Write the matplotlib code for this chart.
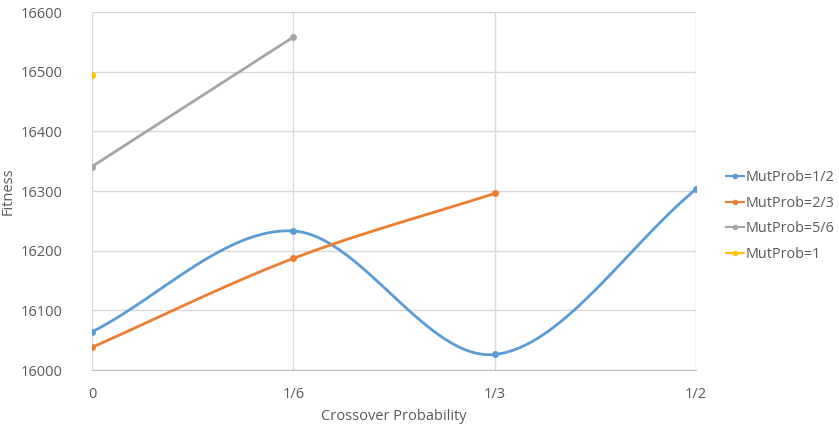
import matplotlib.pyplot as plt
import numpy as np

# crossover probability categories and fitness per mutation probability
categories = ['0', '1/6', '1/3', '1/2']
series_names = ['MutProb=1/2', 'MutProb=2/3', 'MutProb=5/6', 'MutProb=1']
fit_half = [16064, 16233, 16026, 16303]
fit_two_thirds = [16038, 16187, 16296]
fit_five_sixths = [16341, 16558]
fit_one = [16495]
colors = ['#5B9BD5', '#ED7D31', '#A5A5A5', '#FFC000']

text_color = '#595959'
plt.rcParams['font.family'] = ['Open Sans', 'DejaVu Sans']


def smooth(xs, ys, n=40):
    # catmull-rom style curve through the points, like a spreadsheet "smoothed line"
    xs = np.asarray(xs, float)
    ys = np.asarray(ys, float)
    if len(xs) < 3:
        return xs, ys
    px = np.concatenate([[2 * xs[0] - xs[1]], xs, [2 * xs[-1] - xs[-2]]])
    py = np.concatenate([[2 * ys[0] - ys[1]], ys, [2 * ys[-1] - ys[-2]]])
    ox, oy = [], []
    for i in range(1, len(px) - 2):
        p0, p1, p2, p3 = (np.array([px[j], py[j]]) for j in range(i - 1, i + 3))
        c1 = p1 + (p2 - p0) / 6
        c2 = p2 - (p3 - p1) / 6
        t = np.linspace(0, 1, n)[:, None]
        pts = ((1 - t) ** 3 * p1 + 3 * (1 - t) ** 2 * t * c1
               + 3 * (1 - t) * t ** 2 * c2 + t ** 3 * p2)
        ox.extend(pts[:, 0])
        oy.extend(pts[:, 1])
    return np.array(ox), np.array(oy)


fig = plt.figure(figsize=(8.39, 4.24), dpi=100)
ax = fig.add_axes([92 / 839, 54 / 424, 604 / 839, 358 / 424])

for name, vals, c in zip(series_names,
                         [fit_half, fit_two_thirds, fit_five_sixths, fit_one],
                         colors):
    xs = np.arange(len(vals))
    sx, sy = smooth(xs, vals)
    ax.plot(sx, sy, color=c, lw=2, solid_capstyle='round', zorder=3)
    ax.plot(xs, vals, 'o', color=c, ms=4, zorder=4)
    ax.plot([], [], color=c, lw=1.5, marker='o', ms=3, label=name)

ax.set_xlim(0, len(categories) - 1)
ax.set_ylim(16000, 16600)
ax.set_xticks(range(len(categories)))
ax.set_xticklabels(categories)
ax.set_yticks(np.arange(16000, 16601, 100))
ax.grid(True, color='#D9D9D9', lw=1)
ax.set_axisbelow(True)
for s in ['top', 'right', 'left']:
    ax.spines[s].set_visible(False)
ax.spines['bottom'].set_color('#BFBFBF')
ax.tick_params(axis='x', length=0, colors=text_color, labelsize=10.5, pad=12)
ax.tick_params(axis='y', length=0, colors=text_color, labelsize=10.5, pad=21)
ax.set_xlabel('Crossover Probability', color=text_color, fontsize=10.5, labelpad=5)
ax.set_ylabel('Fitness', color=text_color, fontsize=10.5)
ax.yaxis.set_label_coords(-0.127, 0.5)

ax.legend(loc='center left', bbox_to_anchor=(1.049, 0.43), frameon=False,
          fontsize=10.4, labelcolor=text_color, handlelength=1.3,
          handletextpad=0.12, labelspacing=0.72, borderpad=0,
          borderaxespad=0)

fig.savefig('out.png', dpi=100)
